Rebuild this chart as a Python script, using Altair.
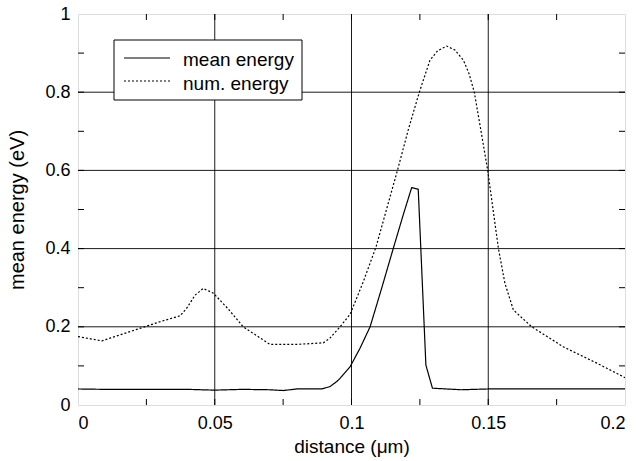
import altair as alt
import pandas as pd

# ---- data ----
mean_x = [0, 0.01, 0.02, 0.03, 0.04, 0.05, 0.06, 0.07, 0.075, 0.08, 0.089, 0.0921, 0.0946,
          0.0958, 0.0995, 0.1031, 0.1068, 0.111, 0.1153, 0.1189, 0.122, 0.1244, 0.1272,
          0.1296, 0.14, 0.15, 0.16, 0.17, 0.18, 0.19, 0.2]
mean_y = [0.041, 0.040, 0.040, 0.040, 0.040, 0.038, 0.040, 0.039, 0.037, 0.041, 0.041,
          0.047, 0.06, 0.068, 0.098, 0.145, 0.2, 0.298, 0.401, 0.486, 0.556, 0.552, 0.102,
          0.043, 0.039, 0.041, 0.041, 0.041, 0.041, 0.041, 0.041]

num_x = [0, 0.0087, 0.02, 0.03, 0.0373, 0.0397, 0.0428, 0.0458, 0.0495, 0.055, 0.0604,
         0.0702, 0.08, 0.0897, 0.0921, 0.0958, 0.0995, 0.1043, 0.109, 0.1168, 0.1208,
         0.1248, 0.1287, 0.1315, 0.1348, 0.1378, 0.1409, 0.1430, 0.1449, 0.147, 0.1498,
         0.1537, 0.1561, 0.1592, 0.1659, 0.1774, 0.1897, 0.2]
num_y = [0.175, 0.164, 0.19, 0.213, 0.228, 0.247, 0.281, 0.298, 0.286, 0.245, 0.2,
         0.155, 0.155, 0.159, 0.171, 0.2, 0.232, 0.315, 0.405, 0.6, 0.705,
         0.8, 0.882, 0.906, 0.918, 0.908, 0.882, 0.847, 0.8, 0.715, 0.6,
         0.401, 0.311, 0.243, 0.2, 0.149, 0.107, 0.07]

series_names = ["mean energy", "num. energy"]
x_labels = [0, 0.05, 0.1, 0.15, 0.2]
y_labels = [0, 0.2, 0.4, 0.6, 0.8, 1.0]
x_grid = [0.05, 0.1, 0.15]
y_grid = [0.2, 0.4, 0.6, 0.8]
x_ticks = [0.025 * i for i in range(1, 8)]
y_ticks = [0.1 * i for i in range(1, 10)]

W, H = 547, 391
FONT = "Liberation Sans"
DASHES = [[1, 0], [2, 2]]

df = pd.concat([
    pd.DataFrame({"x": mean_x, "y": mean_y, "series": series_names[0]}),
    pd.DataFrame({"x": num_x, "y": num_y, "series": series_names[1]}),
])

xs = alt.Scale(domain=[0, 0.2], nice=False, zero=False)
ys = alt.Scale(domain=[0, 1], nice=False, zero=False)

xax = alt.Axis(values=x_labels, format="~g", ticks=False, domain=False, grid=False,
               labelFont=FONT, labelFontSize=18, labelColor="black", labelPadding=9,
               title="distance (μm)", titleFont=FONT, titleFontSize=19,
               titleFontWeight="normal", titleColor="black", titlePadding=5)
yax = alt.Axis(values=y_labels, format="~g", ticks=False, domain=False, grid=False,
               labelFont=FONT, labelFontSize=18, labelColor="black", labelPadding=8,
               title="mean energy (eV)", titleFont=FONT, titleFontSize=20,
               titleFontWeight="normal", titleColor="black", titlePadding=17)

X = lambda f: alt.X(f, scale=xs, axis=xax)
Y = lambda f: alt.Y(f, scale=ys, axis=yax)

lines = alt.Chart(df).mark_line(color="black", strokeWidth=1.2, clip=True).encode(
    x=X("x:Q"), y=Y("y:Q"),
    strokeDash=alt.StrokeDash("series:N",
                              scale=alt.Scale(domain=series_names, range=DASHES),
                              legend=None),
)

gx = alt.Chart(pd.DataFrame({"x": x_grid})).mark_rule(color="black", strokeWidth=0.9).encode(
    x=X("x:Q"))
gy = alt.Chart(pd.DataFrame({"y": y_grid})).mark_rule(color="black", strokeWidth=0.9).encode(
    y=Y("y:Q"))

tx = pd.DataFrame({"x": x_ticks})
ty = pd.DataFrame({"y": y_ticks})
tick_b = alt.Chart(tx).mark_rule(color="black").encode(
    x=X("x:Q"), y=alt.value(H), y2=alt.value(H - 6))
tick_t = alt.Chart(tx).mark_rule(color="black").encode(
    x=X("x:Q"), y=alt.value(0), y2=alt.value(6))
tick_l = alt.Chart(ty).mark_rule(color="black").encode(
    y=Y("y:Q"), x=alt.value(0), x2=alt.value(6))
tick_r = alt.Chart(ty).mark_rule(color="black").encode(
    y=Y("y:Q"), x=alt.value(W), x2=alt.value(W - 6))

# ---- legend drawn by hand ----
leg_df = pd.DataFrame({"series": series_names, "row": [0, 1]})
leg_box = alt.Chart(pd.DataFrame({"a": [0]})).mark_rect(
    fill="white", stroke="black", strokeWidth=1).encode(
    x=alt.value(36), x2=alt.value(224), y=alt.value(26), y2=alt.value(86))
leg_lines = [
    alt.Chart(leg_df.iloc[[i]]).mark_rule(color="black", strokeWidth=1.2,
                                          strokeDash=DASHES[i]).encode(
        x=alt.value(46), x2=alt.value(92), y=alt.value(44 + 23 * i))
    for i in range(2)
]
leg_text = [
    alt.Chart(leg_df.iloc[[i]]).mark_text(align="left", baseline="alphabetic", font=FONT,
                                          fontSize=19, color="black").encode(
        x=alt.value(105), y=alt.value(52 + 23.5 * i), text="series:N")
    for i in range(2)
]

chart = alt.layer(gx, gy, tick_b, tick_t, tick_l, tick_r, lines,
                  leg_box, *leg_lines, *leg_text).properties(
    width=W, height=H,
    autosize=alt.AutoSizeParams(type="none"),
    padding={"left": 78, "top": 14, "right": 12, "bottom": 56},
).configure_view(stroke="black", strokeWidth=1.5).configure(background="white")

chart.save("out.html", embed_options={"renderer": "svg", "actions": False})
